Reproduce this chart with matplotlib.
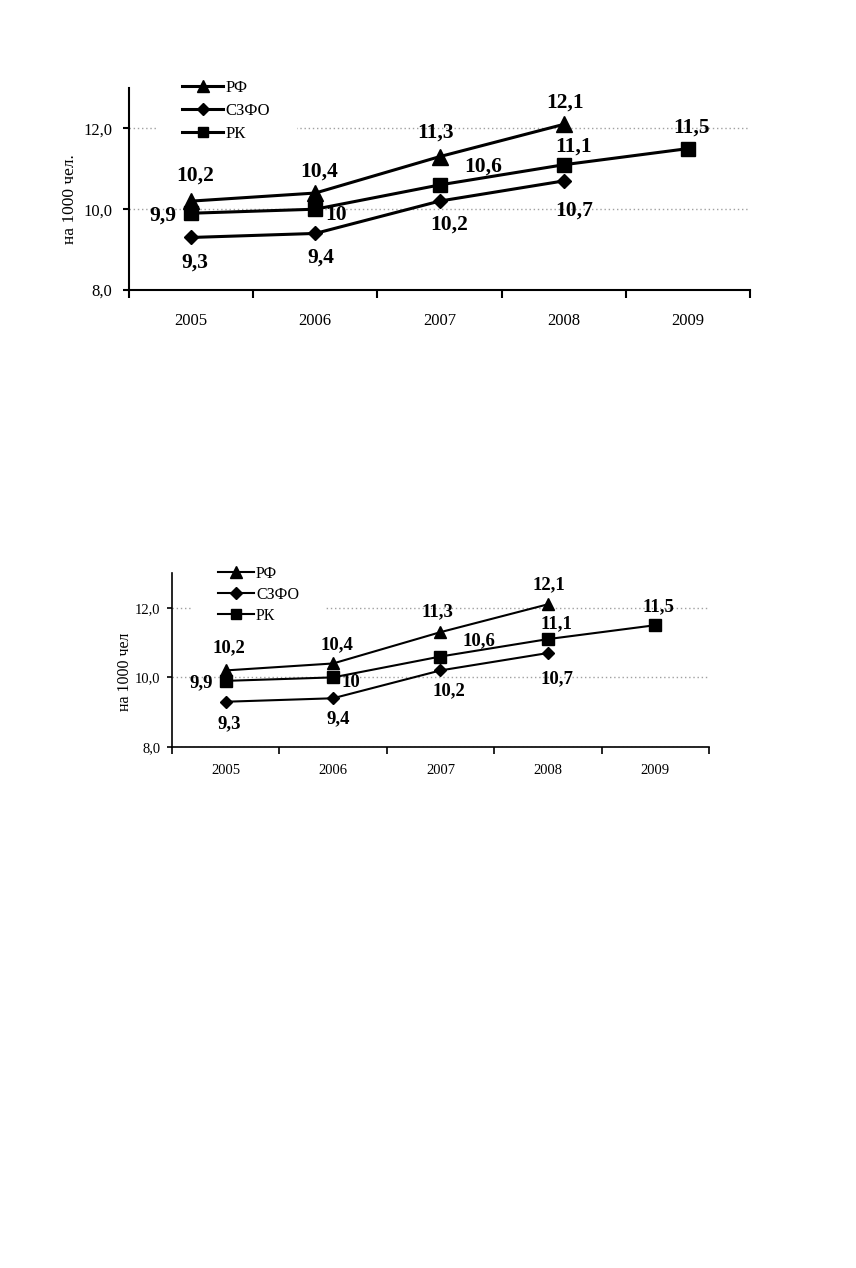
import numpy as np
import matplotlib
matplotlib.use("Agg")
import matplotlib.pyplot as plt
from matplotlib.ticker import FixedLocator, FuncFormatter

plt.rcParams["font.family"] = ["Liberation Serif", "DejaVu Serif"]

# dados
anos = ["2005", "2006", "2007", "2008", "2009"]
rf = [10.2, 10.4, 11.3, 12.1, np.nan]
szfo = [9.3, 9.4, 10.2, 10.7, np.nan]
rk = [9.9, 10.0, 10.6, 11.1, 11.5]
series_nomes = ["РФ", "СЗФО", "РК"]
y_ticks = [8.0, 10.0, 12.0]

# deslocamento dos rotulos (pixels) por serie / ano
OFFS = {
    "РФ": [(4, 26), (4, 21), (-4, 24), (1, 22), (0, 0)],
    "СЗФО": [(4, -25), (6, -24), (10, -23), (10, -30), (0, 0)],
    "РК": [(-28, -2), (21, -6), (44, 18), (10, 18), (4, 21)],
}
MARK = {"РФ": "^", "СЗФО": "D", "РК": "s"}


def virgula(v):
    return f"{v:g}".replace(".", ",")


def desenha(ax, ylab, st):
    x = np.arange(len(anos))
    dados = {"РФ": rf, "СЗФО": szfo, "РК": rk}
    for nome in series_nomes:
        ax.plot(x, dados[nome], color="black", lw=st["lw"], marker=MARK[nome],
                ms=st["ms"][nome], mfc="black", mec="black", label=nome, zorder=3)
    for nome in series_nomes:
        for i, v in enumerate(dados[nome]):
            if np.isnan(v):
                continue
            dx, dy = OFFS[nome][i]
            ax.annotate(virgula(v), (x[i], v), xytext=(dx * st["k"], dy * st["k"]),
                        textcoords="offset pixels", ha="center", va="center",
                        fontsize=st["fs_ann"], fontweight="bold", zorder=5)

    ax.set_xlim(-0.5, len(anos) - 0.5)
    ax.set_ylim(8, 13)
    ax.xaxis.set_major_locator(FixedLocator(x))
    ax.set_xticklabels(anos)
    ax.xaxis.set_minor_locator(FixedLocator(np.arange(len(anos) + 1) - 0.5))
    ax.tick_params(axis="x", which="major", length=0, pad=st["xpad"],
                   labelsize=st["fs_tick"])
    ax.tick_params(axis="x", which="minor", length=st["xtl"], width=st["spw"],
                   direction="out")
    ax.set_yticks(y_ticks)
    ax.yaxis.set_major_formatter(FuncFormatter(lambda v, p: f"{v:.1f}".replace(".", ",")))
    ax.tick_params(axis="y", length=st["ytl"], width=st["spw"], pad=st["ypad"],
                   labelsize=st["fs_tick"])
    for s in ["top", "right"]:
        ax.spines[s].set_visible(False)
    for s in ["left", "bottom"]:
        ax.spines[s].set_linewidth(st["spw"])
    ax.grid(axis="y", color="#a0a0a0", ls=(0, (1, 2)), lw=1)
    ax.set_axisbelow(True)

    ax.set_ylabel(ylab, fontsize=st["fs_ylab"])
    ax.yaxis.set_label_coords(*st["ylab_xy"])

    leg = ax.legend(loc="upper left", bbox_to_anchor=st["leg_xy"], frameon=True,
                    facecolor="white", edgecolor="none", framealpha=1, fancybox=False,
                    fontsize=st["fs_leg"], handlelength=st["hl"], handletextpad=0.15,
                    labelspacing=st["lsp"], borderpad=1.6, borderaxespad=0)
    leg.set_zorder(2.5)
    for h, nome in zip(leg.legend_handles, series_nomes):
        h.set_markersize(st["ms_leg"][nome])


fig = plt.figure(figsize=(8.56, 12.68), dpi=100)

ax1 = fig.add_axes([0.1507, 0.7713, 0.7255, 0.1593])
desenha(ax1, "на 1000 чел.", dict(
    lw=2.2, ms={"РФ": 11, "СЗФО": 7.5, "РК": 10.5}, k=1.0, fs_ann=15.5,
    fs_tick=12, xpad=16.5, xtl=6, ytl=4, ypad=8, spw=1.5, fs_ylab=12.5,
    ylab_xy=(-0.082, 0.45), leg_xy=(0.043, 1.17), fs_leg=12, hl=2.45, lsp=0.42,
    ms_leg={"РФ": 9, "СЗФО": 6.5, "РК": 7.5},
))

ax2 = fig.add_axes([0.2009, 0.4109, 0.6273, 0.1372])
desenha(ax2, "на 1000 чел", dict(
    lw=1.5, ms={"РФ": 9, "СЗФО": 6.5, "РК": 8.5}, k=0.87, fs_ann=13.5,
    fs_tick=10.5, xpad=12.5, xtl=5, ytl=3.5, ypad=5, spw=1.2, fs_ylab=11.5,
    ylab_xy=(-0.073, 0.43), leg_xy=(0.039, 1.19), fs_leg=11.5, hl=2.2, lsp=0.32,
    ms_leg={"РФ": 8, "СЗФО": 6, "РК": 7},
))

fig.savefig("out.png", dpi=100)
